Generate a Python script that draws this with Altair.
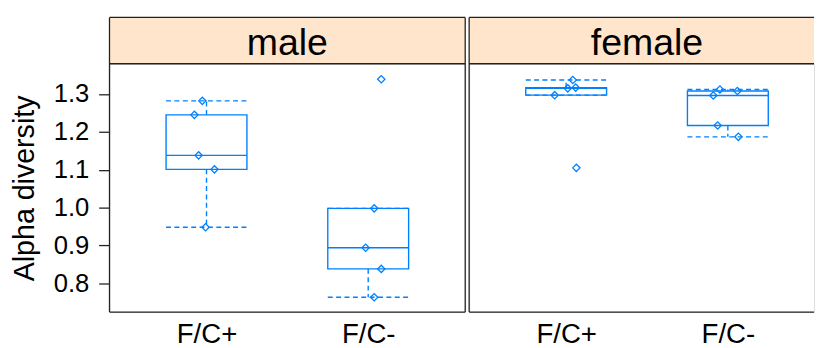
import altair as alt
import pandas as pd
import math

# ---- data ----
panels = ["male", "female"]
groups = ["F/C+", "F/C-"]

male_fcp = [1.282, 1.245, 1.138, 1.101, 0.948]
male_fcp_jit = [-0.026, -0.075, -0.049, 0.049, -0.006]
male_fcm = [0.998, 0.894, 0.838, 0.763, 1.339]
male_fcm_jit = [0.037, -0.016, 0.081, 0.037, 0.081]
female_fcp = [1.337, 1.317, 1.315, 1.297, 1.105]
female_fcp_jit = [0.041, 0.059, 0.010, -0.071, 0.063]
female_fcm = [1.312, 1.308, 1.296, 1.217, 1.187]
female_fcm_jit = [-0.049, 0.059, -0.090, -0.063, 0.065]

y_ticks = [0.8, 0.9, 1.0, 1.1, 1.2, 1.3]

series = {
    ("male", "F/C+"): (male_fcp, male_fcp_jit),
    ("male", "F/C-"): (male_fcm, male_fcm_jit),
    ("female", "F/C+"): (female_fcp, female_fcp_jit),
    ("female", "F/C-"): (female_fcm, female_fcm_jit),
}

BLUE = "#0080ff"
STRIP_FILL = "#ffe5cc"
FRAME = "#222222"
FONT = "Liberation Sans"
W_L, W_R, H, STRIP = 361, 350, 252, 47
Y_DOM = [0.724, 1.380]
BOX_HALF = 0.25


def fivenum(v):
    s = sorted(v)
    n = len(s)
    n4 = math.floor((n + 3) / 2) / 2
    d = [1, n4, (n + 1) / 2, n + 1 - n4, n]
    return [0.5 * (s[math.floor(di - 1)] + s[math.ceil(di - 1)]) for di in d]


pt_rows, st_rows = [], []
for (sex, grp), (vals, jit) in series.items():
    xp = groups.index(grp) + 1
    for v, j in zip(vals, jit):
        pt_rows.append({"sex": sex, "group": grp, "xj": xp + j, "value": v})
    f = fivenum(vals)
    q1, med, q3 = f[1], f[2], f[3]
    iqr = q3 - q1
    lo_f, hi_f = q1 - 1.5 * iqr, q3 + 1.5 * iqr
    wlo = min(v for v in vals if v >= lo_f)
    whi = max(v for v in vals if v <= hi_f)
    st_rows.append({"sex": sex, "group": grp, "xc": xp, "xlo": xp - BOX_HALF,
                    "xhi": xp + BOX_HALF, "q1": q1, "med": med, "q3": q3,
                    "wlo": wlo, "whi": whi})

pts = pd.DataFrame(pt_rows)
stats = pd.DataFrame(st_rows)
one = pd.DataFrame({"k": [0]})


def panel(sex, W, show_y):
    xdom = [0.4, 0.4 + 2.2 * W / W_L]
    xscale = alt.Scale(domain=xdom, nice=False, zero=False)
    yscale = alt.Scale(domain=Y_DOM, nice=False, zero=False)
    xaxis = alt.Axis(values=[1, 2], labelExpr="datum.value == 1 ? 'F/C+' : 'F/C-'",
                     ticks=False, domain=False, grid=False, title=None,
                     labelFontSize=28, labelColor="black", labelPadding=9,
                     labelFont=FONT)
    if show_y:
        yaxis = alt.Axis(values=y_ticks, format=".1f", grid=False, domain=False,
                         tickSize=11, tickColor=FRAME, tickWidth=1.3,
                         labelFontSize=26, labelColor="black", labelPadding=10,
                         labelFont=FONT, title="Alpha diversity",
                         titleFontSize=29, titleFontWeight="normal",
                         titleColor="black", titleFont=FONT, titlePadding=14)
    else:
        yaxis = None

    def X(f):
        return alt.X(f, type="quantitative", scale=xscale, axis=xaxis)

    def Y(f):
        return alt.Y(f, type="quantitative", scale=yscale, axis=yaxis)

    st = stats[stats.sex == sex]
    pp = pts[pts.sex == sex]

    strip_bg = alt.Chart(one).mark_rect(color=STRIP_FILL).encode(
        x=alt.value(0), x2=alt.value(W), y=alt.value(-STRIP), y2=alt.value(0))
    strip_txt = alt.Chart(one).mark_text(fontSize=38, font=FONT, color="black",
                                         baseline="alphabetic", align="center").encode(
        x=alt.value(W_L / 2), y=alt.value(-8.5), text=alt.value(sex))

    rule = dict(color=FRAME, strokeWidth=1.3)
    frames = [
        alt.Chart(one).mark_rule(**rule).encode(x=alt.value(0), x2=alt.value(W), y=alt.value(-STRIP)),
        alt.Chart(one).mark_rule(**rule).encode(x=alt.value(0), x2=alt.value(W), y=alt.value(0)),
        alt.Chart(one).mark_rule(**rule).encode(x=alt.value(0), x2=alt.value(W), y=alt.value(H)),
        alt.Chart(one).mark_rule(**rule).encode(x=alt.value(0), y=alt.value(-STRIP), y2=alt.value(H)),
    ]
    if show_y:
        frames.append(alt.Chart(one).mark_rule(**rule).encode(
            x=alt.value(W), y=alt.value(-STRIP), y2=alt.value(H)))

    lw = 1.4
    box = alt.Chart(st).mark_rect(fill="white", fillOpacity=0, stroke=BLUE,
                                  strokeWidth=lw).encode(
        x=X("xlo"), x2="xhi", y=Y("q1"), y2="q3")
    med = alt.Chart(st).mark_rule(color=BLUE, strokeWidth=lw).encode(
        x=X("xlo"), x2="xhi", y=Y("med"))
    dash = [5, 3.5]
    wup = alt.Chart(st).mark_rule(color=BLUE, strokeWidth=lw, strokeDash=dash).encode(
        x=X("xc"), y=Y("q3"), y2="whi")
    wdn = alt.Chart(st).mark_rule(color=BLUE, strokeWidth=lw, strokeDash=dash).encode(
        x=X("xc"), y=Y("q1"), y2="wlo")
    cup = alt.Chart(st).mark_rule(color=BLUE, strokeWidth=lw, strokeDash=dash).encode(
        x=X("xlo"), x2="xhi", y=Y("whi"))
    cdn = alt.Chart(st).mark_rule(color=BLUE, strokeWidth=lw, strokeDash=dash).encode(
        x=X("xlo"), x2="xhi", y=Y("wlo"))
    points = alt.Chart(pp).mark_point(shape="diamond", filled=False, size=55,
                                      strokeWidth=1.3, color=BLUE, opacity=1).encode(
        x=X("xj"), y=Y("value"))

    return alt.layer(points, box, med, wup, wdn, cup, cdn, strip_bg, *frames,
                     strip_txt).properties(width=W, height=H)


chart = alt.hconcat(panel("male", W_L, True), panel("female", W_R, False),
                    spacing=0).properties(
    padding={"left": 2, "top": 5, "right": 0, "bottom": 5}
).configure_view(stroke=None).configure(font=FONT)

chart.save("out.html", embed_options={"renderer": "svg", "actions": False})
